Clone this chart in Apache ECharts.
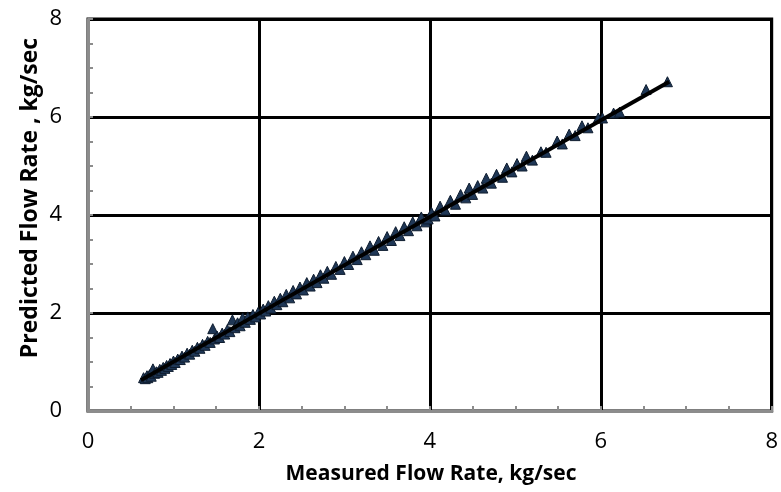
<!DOCTYPE html>
<html>
<head>
<meta charset="utf-8">
<script src="https://cdn.jsdelivr.net/npm/echarts@6/dist/echarts.min.js"></script>
<style>html,body{margin:0;padding:0;background:#fff;}#c{width:781px;height:492px;}</style>
</head>
<body>
<div id="c"></div>
<script>
const xTicks = [0, 2, 4, 6, 8];
const yTicks = [0, 2, 4, 6, 8];
const xTitle = 'Measured Flow Rate, kg/sec';
const yTitle = 'Predicted Flow Rate , kg/sec';
const measured = [0.65,0.67,0.69,0.70,0.72,0.74,0.76,0.78,0.80,0.82,0.84,0.86,0.88,0.90,0.92,0.94,0.96,0.98,1.00,1.02,1.05,1.08,1.10,1.13,1.16,1.19,1.22,1.25,1.28,1.31,1.34,1.37,1.40,1.43,1.46,1.48,1.51,1.54,1.57,1.60,1.63,1.66,1.69,1.72,1.75,1.78,1.81,1.84,1.87,1.90,1.93,1.96,1.99,
2.02,2.05,2.08,2.11,2.14,2.18,2.21,2.25,2.28,2.32,2.36,2.40,2.44,2.48,2.52,2.56,2.60,2.64,2.68,2.72,2.76,2.80,2.85,2.90,2.95,3.00,3.05,3.10,3.15,3.20,3.25,3.30,3.35,3.40,3.45,3.50,3.55,3.60,3.65,3.70,3.75,3.80,3.85,3.90,3.95,3.98,
4.02,4.06,4.12,4.18,4.24,4.30,4.36,4.42,4.46,4.50,4.56,4.62,4.66,4.72,4.78,4.85,4.90,4.96,
5.02,5.08,5.13,5.20,5.30,5.36,5.49,5.55,5.63,5.70,5.78,5.85,5.97,6.02,
6.15,6.22,6.53,6.78];
const predicted = [0.68,0.66,0.72,0.68,0.74,0.71,0.86,0.77,0.80,0.79,0.85,0.83,0.89,0.87,0.93,0.91,0.97,0.95,1.02,0.99,1.06,1.05,1.12,1.10,1.18,1.16,1.24,1.22,1.30,1.28,1.36,1.34,1.42,1.40,1.68,1.47,1.53,1.50,1.59,1.57,1.66,1.62,1.86,1.70,1.80,1.74,1.90,1.81,1.92,1.87,1.97,1.92,2.01,
1.98,2.08,2.04,2.15,2.10,2.24,2.17,2.30,2.23,2.38,2.31,2.46,2.39,2.53,2.47,2.62,2.55,2.69,2.62,2.78,2.71,2.85,2.79,2.95,2.89,3.05,2.99,3.16,3.09,3.25,3.19,3.37,3.28,3.46,3.38,3.56,3.48,3.66,3.58,3.76,3.68,3.86,3.78,3.96,3.86,3.92,
4.05,3.98,4.18,4.10,4.30,4.22,4.42,4.35,4.55,4.42,4.60,4.55,4.75,4.65,4.83,4.77,4.96,4.88,
5.05,5.00,5.20,5.12,5.29,5.28,5.51,5.45,5.65,5.62,5.82,5.78,5.98,5.98,
6.08,6.10,6.56,6.72];
const fitX = [0.62, 6.8];
const fitY = [0.63, 6.72];

const pts = measured.map((x, i) => [x, predicted[i]]);
const fit = fitX.map((x, i) => [x, fitY[i]]);
const font = '"Open Sans", "Liberation Sans", sans-serif';

const chart = echarts.init(document.getElementById('c'), null, {renderer: 'canvas'});
chart.setOption({
  animation: false,
  backgroundColor: '#fff',
  grid: {left: 88, right: 8, top: 19, bottom: 81, show: true, borderColor: '#000', borderWidth: 3},
  graphic: [
    {type: 'text', x: 431, y: 474, style: {text: xTitle, font: 'bold 21px ' + font, fill: '#000', align: 'center', verticalAlign: 'middle'}},
    {type: 'text', x: 30, y: 198, rotation: Math.PI / 2, style: {text: yTitle, font: 'bold 23px ' + font, fill: '#000', align: 'center', verticalAlign: 'middle'}}
  ],
  xAxis: {
    type: 'value', min: xTicks[0], max: xTicks[xTicks.length - 1], interval: 2,
    axisLine: {show: true, lineStyle: {color: '#8c8c8c', width: 3}},
    axisTick: {show: true, inside: true, length: 5, lineStyle: {color: '#8c8c8c', width: 2}},
    minorTick: {show: true, splitNumber: 4, length: 5, lineStyle: {color: '#8c8c8c', width: 2}},
    axisLabel: {fontFamily: font, fontSize: 22, color: '#000', margin: 20},
    splitLine: {show: true, lineStyle: {color: '#000', width: 3}}
  },
  yAxis: {
    type: 'value', min: yTicks[0], max: yTicks[yTicks.length - 1], interval: 2,
    axisLine: {show: true, lineStyle: {color: '#8c8c8c', width: 3}},
    axisTick: {show: true, inside: true, length: 5, lineStyle: {color: '#8c8c8c', width: 2}},
    minorTick: {show: true, splitNumber: 4, length: 5, lineStyle: {color: '#8c8c8c', width: 2}},
    axisLabel: {fontFamily: font, fontSize: 22, color: '#000', margin: 26},
    splitLine: {show: true, lineStyle: {color: '#000', width: 3}}
  },
  series: [
    {
      type: 'scatter', data: pts, symbol: 'triangle', symbolSize: 10,
      itemStyle: {color: '#1f3756', borderColor: '#0e1c2e', borderWidth: 1, opacity: 1},
      z: 2
    },
    {
      type: 'line', data: fit, symbol: 'none',
      lineStyle: {color: '#000', width: 4}, z: 3
    }
  ]
});
</script>
</body>
</html>
